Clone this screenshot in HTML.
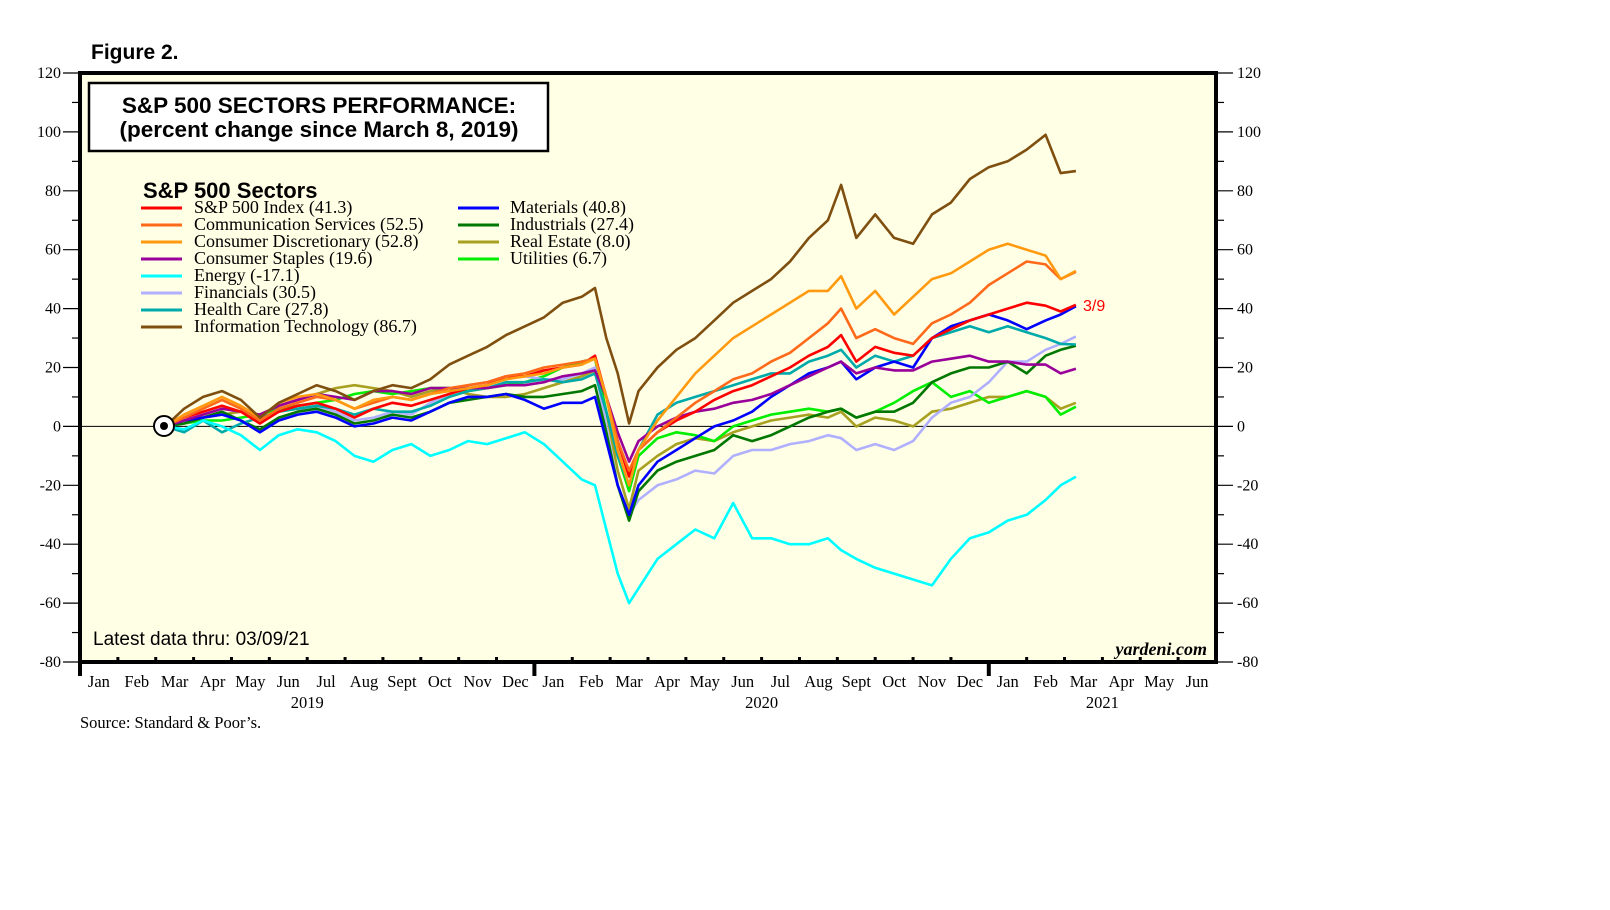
<!DOCTYPE html>
<html><head><meta charset="utf-8"><style>
html,body{margin:0;padding:0;background:#fff;}
svg{display:block;}
.ser{font-family:"Liberation Serif",serif;}
.san{font-family:"Liberation Sans",sans-serif;}
</style></head><body>
<svg id="chart" width="1610" height="910" viewBox="0 0 1610 910" xmlns="http://www.w3.org/2000/svg">
<rect x="80" y="73" width="1136" height="589" fill="#ffffe6"/>
<g id="grid"></g>
<g id="lines"></g>
<rect x="80" y="73" width="1136" height="589" fill="none" stroke="#000" stroke-width="4"/>
<text x="91" y="59" class="san" font-size="21" font-weight="bold">Figure 2.</text>
<rect x="89" y="83" width="459" height="68" fill="#fff" stroke="#000" stroke-width="2.5"/>
<text x="319" y="113" text-anchor="middle" class="san" font-size="22.5" font-weight="bold">S&amp;P 500 SECTORS PERFORMANCE:</text>
<text x="319" y="137" text-anchor="middle" class="san" font-size="22.5" font-weight="bold">(percent change since March 8, 2019)</text>
<text x="143" y="198" class="san" font-size="22" font-weight="bold">S&amp;P 500 Sectors</text>
<g id="legend"></g>
<circle cx="164" cy="426" r="10" fill="#fff" stroke="#000" stroke-width="2"/>
<circle cx="164" cy="426" r="4" fill="#000"/>
<text x="1083" y="311" class="san" font-size="16" fill="#ff0000">3/9</text>
<text x="93" y="645" class="san" font-size="19">Latest data thru: 03/09/21</text>
<text x="1207" y="655" text-anchor="end" class="ser" font-size="18" font-style="italic" font-weight="bold">yardeni.com</text>
<text x="80" y="728" class="ser" font-size="16.5">Source: Standard &amp; Poor’s.</text>
</svg>
<script>
const monthIndex=[2.25,2.75,3.25,3.75,4.25,4.75,5.25,5.75,6.25,6.75,7.25,7.75,8.25,8.75,9.25,9.75,10.25,10.75,11.25,11.75,12.25,12.75,13.25,13.6,13.9,14.2,14.5,14.75,15.25,15.75,16.25,16.75,17.25,17.75,18.25,18.75,19.25,19.75,20.1,20.5,21.0,21.5,22.0,22.5,23.0,23.5,24.0,24.5,25.0,25.5,25.9,26.3];
const spx=[0,3,5,7,5,1,5,7,8,6,3,6,8,7,9,11,13,14,17,17,19,20,21,24,10,-5,-17,-8,-2,2,5,9,12,14,17,20,24,27,31,22,27,25,24,30,33,36,38,40,42,41,39,41.3];
const commServices=[0,3,6,9,6,2,6,8,10,9,6,8,10,9,11,13,14,15,17,18,20,21,22,23,10,-5,-15,-8,-2,3,8,12,16,18,22,25,30,35,40,30,33,30,28,35,38,42,48,52,56,55,50,52.5];
const consDisc=[0,4,7,10,7,3,8,10,11,9,6,9,10,9,11,12,13,14,16,17,18,20,21,23,10,-8,-20,-8,2,10,18,24,30,34,38,42,46,46,51,40,46,38,44,50,52,56,60,62,60,58,50,52.8];
const consStaples=[0,2,4,6,5,4,7,9,11,10,9,12,12,11,13,13,13,13,14,14,15,17,18,19,10,-2,-12,-5,0,3,5,6,8,9,11,14,17,20,22,18,20,19,19,22,23,24,22,22,21,21,18,19.6];
const energy=[0,-1,2,0,-3,-8,-3,-1,-2,-5,-10,-12,-8,-6,-10,-8,-5,-6,-4,-2,-6,-12,-18,-20,-35,-50,-60,-55,-45,-40,-35,-38,-26,-38,-38,-40,-40,-38,-42,-45,-48,-50,-52,-54,-45,-38,-36,-32,-30,-25,-20,-17.1];
const financials=[0,1,3,5,2,-2,3,5,7,5,2,3,5,4,8,11,14,15,17,17,16,16,18,20,0,-20,-30,-25,-20,-18,-15,-16,-10,-8,-8,-6,-5,-3,-4,-8,-6,-8,-5,3,8,10,15,22,22,26,28,30.5];
const healthCare=[0,-2,2,-2,1,3,5,6,7,6,4,6,5,5,7,10,12,13,15,15,16,15,16,18,5,-10,-20,-8,4,8,10,12,14,16,18,18,22,24,26,20,24,22,24,30,32,34,32,34,32,30,28,27.8];
const infoTech=[0,6,10,12,9,3,8,11,14,12,9,12,14,13,16,21,24,27,31,34,37,42,44,47,30,18,1,12,20,26,30,36,42,46,50,56,64,70,82,64,72,64,62,72,76,84,88,90,94,99,86,86.7];
const materials=[0,2,3,4,2,-2,2,4,5,3,0,1,3,2,5,8,10,10,11,9,6,8,8,10,-5,-20,-30,-20,-12,-8,-4,0,2,5,10,14,18,20,22,16,20,22,20,30,34,36,38,36,33,36,38,40.8];
const industrials=[0,1,3,5,2,-1,3,5,6,4,1,2,4,3,5,8,9,10,11,10,10,11,12,14,-2,-20,-32,-22,-15,-12,-10,-8,-3,-5,-3,0,3,5,6,3,5,5,8,15,18,20,20,22,18,24,26,27.4];
const realEstate=[0,2,3,4,5,4,7,9,11,13,14,13,12,10,12,13,11,10,10,11,13,15,17,19,5,-15,-28,-15,-10,-6,-4,-5,-2,0,2,3,4,3,5,0,3,2,0,5,6,8,10,10,12,10,6,8.0];
const utilities=[0,1,2,2,3,4,6,7,8,9,11,12,11,12,13,13,12,13,14,15,17,20,22,23,5,-10,-22,-10,-4,-2,-3,-5,0,2,4,5,6,5,6,3,5,8,12,15,10,12,8,10,12,10,4,6.7];
const yTicks=[120,100,80,60,40,20,0,-20,-40,-60,-80];
const monthLabels=["Jan","Feb","Mar","Apr","May","Jun","Jul","Aug","Sept","Oct","Nov","Dec"];
const yearLabels=["2019","2020","2021"];
const yearLabelMonth=[6,18,27];

const NS="http://www.w3.org/2000/svg";
const X0=80,X1=1216,Y0=73,Y1=662;
function xs(t){return X0+t*(X1-X0)/30;}
function ys(v){return Y0+(120-v)*(Y1-Y0)/200;}
function mk(tag,attrs,parent){const e=document.createElementNS(NS,tag);for(const k in attrs)e.setAttribute(k,attrs[k]);parent.appendChild(e);return e;}
const grid=document.getElementById('grid');
for(let v=-80;v<=120;v+=10){
  const major=v%20===0;
  const l=mk('line',{x1:major?63:72,x2:X0,y1:ys(v),y2:ys(v),stroke:'#000','stroke-width':1.2},grid);
  
  
  const r=mk('line',{x1:X1,x2:major?1233:1224,y1:ys(v),y2:ys(v),stroke:'#000','stroke-width':1.2},grid);
  
  
}
yTicks.forEach(v=>{
  const a=mk('text',{x:61,y:ys(v)+5,'text-anchor':'end','font-size':16,class:'ser'},grid);a.textContent=v;
  
  
  const b=mk('text',{x:1237,y:ys(v)+5,'font-size':16,class:'ser'},grid);b.textContent=v;
  
  
});
const z=mk('line',{x1:X0,x2:X1,y1:ys(0),y2:ys(0),stroke:'#000','stroke-width':1},grid);


for(let m=0;m<=30;m++){
  const yr=m%12===0;
  const t=mk('line',{x1:xs(m),x2:xs(m),y1:yr?Y1+14:Y1-5,y2:Y1,stroke:'#000','stroke-width':yr?4:3},grid);
  
  
  if(m<30){
    const lb=mk('text',{x:xs(m+0.5),y:687,'text-anchor':'middle','font-size':16.5,class:'ser'},grid);lb.textContent=monthLabels[m%12];
    
    
  }
}
yearLabels.forEach((yl,i)=>{
  const e=mk('text',{x:xs(yearLabelMonth[i]),y:708,'text-anchor':'middle','font-size':16.5,class:'ser'},grid);e.textContent=yl;
  
  
});
const series=[
 ["S&P 500 Index (41.3)",spx,"#ff0000",0,0,"spx-line"],
 ["Communication Services (52.5)",commServices,"#ff6a1a",0,1,"comm-services-line"],
 ["Consumer Discretionary (52.8)",consDisc,"#ff9a10",0,2,"cons-disc-line"],
 ["Consumer Staples (19.6)",consStaples,"#990099",0,3,"cons-staples-line"],
 ["Energy (-17.1)",energy,"#00ffff",0,4,"energy-line"],
 ["Financials (30.5)",financials,"#b0b0ff",0,5,"financials-line"],
 ["Health Care (27.8)",healthCare,"#00aaaa",0,6,"health-care-line"],
 ["Information Technology (86.7)",infoTech,"#7f4f10",0,7,"info-tech-line"],
 ["Materials (40.8)",materials,"#0000ff",1,0,"materials-line"],
 ["Industrials (27.4)",industrials,"#007700",1,1,"industrials-line"],
 ["Real Estate (8.0)",realEstate,"#a8a020",1,2,"real-estate-line"],
 ["Utilities (6.7)",utilities,"#00ee00",1,3,"utilities-line"]
];
const lines=document.getElementById('lines'),leg=document.getElementById('legend');
const order=[10,11,5,9,6,4,8,3,0,1,2,7];
order.forEach(i=>{
  const s=series[i];
  const pts=s[1].map((v,j)=>xs(monthIndex[j]).toFixed(1)+','+ys(v).toFixed(1)).join(' ');
  const p=mk('polyline',{points:pts,fill:'none',stroke:s[2],'stroke-width':2.6,'stroke-linejoin':'round'},lines);
  
  
});
series.forEach(s=>{
  const lx=s[3]?458:141, tx=s[3]?510:194, by=213+s[4]*17;
  const l=mk('line',{x1:lx,x2:lx+41,y1:by-5,y2:by-5,stroke:s[2],'stroke-width':3},leg);
  
  
  const t=mk('text',{x:tx,y:by,'font-size':18,class:'ser'},leg);t.textContent=s[0];
  
  
});
</script>
</body></html>
